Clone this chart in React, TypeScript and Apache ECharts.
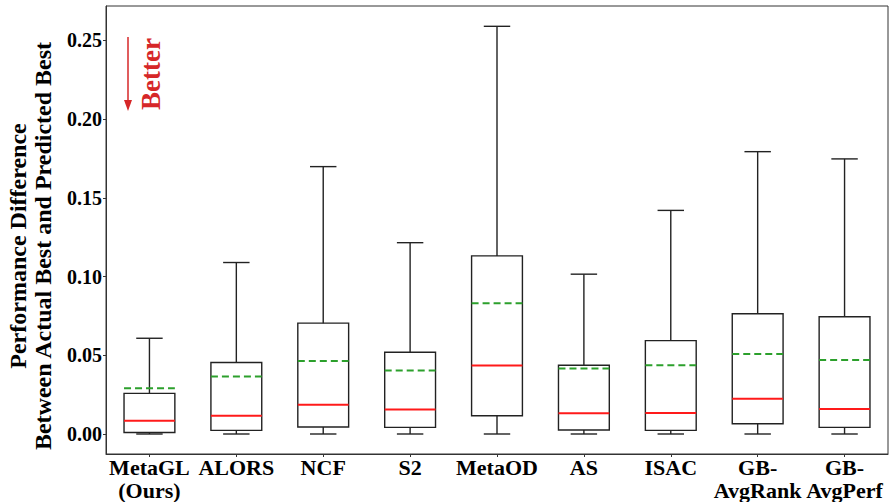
import React, { useEffect, useRef } from "react";
import * as echarts from "echarts";

const categories = ["MetaGL\n(Ours)", "ALORS", "NCF", "S2", "MetaOD", "AS", "ISAC", "GB-\nAvgRank", "GB-\nAvgPerf"];
const whiskerLow = [0.0, 0.0, 0.0, 0.0, 0.0, 0.0, 0.0, 0.0, 0.0];
const q1 = [0.001, 0.0023, 0.0044, 0.0042, 0.0116, 0.0025, 0.0023, 0.0065, 0.0042];
const median = [0.0084, 0.0116, 0.0185, 0.0156, 0.0435, 0.0131, 0.0133, 0.0224, 0.0158];
const q3 = [0.0258, 0.0454, 0.0704, 0.0519, 0.1131, 0.0437, 0.0593, 0.0764, 0.0745];
const whiskerHigh = [0.0608, 0.1089, 0.1698, 0.1215, 0.2589, 0.1015, 0.142, 0.1793, 0.1747];
const mean = [0.0291, 0.0365, 0.0464, 0.0403, 0.0831, 0.0416, 0.0437, 0.0508, 0.047];
const yTicks = [0, 0.05, 0.1, 0.15, 0.2, 0.25];

const FONT = '"Liberation Serif", "Times New Roman", serif';

export default function App() {
  const ref = useRef<HTMLDivElement>(null);
  useEffect(() => {
    if (!ref.current) return;
    const chart = echarts.init(ref.current, undefined, { renderer: "svg" });
    const data = categories.map((_, i) => [i, whiskerLow[i], q1[i], median[i], q3[i], whiskerHigh[i], mean[i]]);
    const lineColor = "#222";
    chart.setOption({
      animation: false,
      backgroundColor: "#fff",
      grid: { left: 106, right: 1, top: 6, bottom: 46, show: true, borderColor: "#333", borderWidth: 1 },
      xAxis: {
        type: "category",
        data: categories,
        boundaryGap: true,
        axisLine: { onZero: false, lineStyle: { color: "#333", width: 1 } },
        axisTick: { show: true, alignWithLabel: true, length: 3, lineStyle: { color: "#333" } },
        axisLabel: {
          interval: 0,
          margin: 2,
          color: "#000",
          fontFamily: FONT,
          fontWeight: "bold",
          fontSize: 22,
          lineHeight: 23,
        },
        splitLine: { show: false },
      },
      yAxis: {
        type: "value",
        min: -0.0127,
        max: 0.2718,
        axisLine: { show: true, lineStyle: { color: "#333", width: 1 } },
        axisTick: { show: true, length: 3, customValues: yTicks, lineStyle: { color: "#333" } },
        axisLabel: {
          customValues: yTicks,
          margin: 4,
          color: "#000",
          fontFamily: FONT,
          fontWeight: "bold",
          fontSize: 20,
          formatter: (v: number) => v.toFixed(2),
        },
        splitLine: { show: false },
      },
      graphic: [
        {
          type: "text",
          x: 30,
          y: 246,
          rotation: Math.PI / 2,
          style: {
            text: "Performance Difference\nBetween Actual Best and Predicted Best",
            fontFamily: FONT,
            fontWeight: "bold",
            fontSize: 24,
            lineHeight: 25,
            fill: "#000",
            align: "center",
            verticalAlign: "middle",
          },
        },
        {
          type: "line",
          shape: { x1: 128, y1: 37, x2: 128, y2: 104 },
          style: { stroke: "#d62728", lineWidth: 1.5 },
        },
        {
          type: "polygon",
          shape: { points: [[124, 100], [132, 100], [128, 111]] },
          style: { fill: "#d62728" },
        },
        {
          type: "text",
          x: 151,
          y: 74,
          rotation: Math.PI / 2,
          style: {
            text: "Better",
            fontFamily: FONT,
            fontWeight: "bold",
            fontSize: 27,
            fill: "#d62728",
            align: "center",
            verticalAlign: "middle",
          },
        },
      ],
      series: [
        {
          type: "custom",
          data,
          encode: { x: 0, y: [1, 2, 3, 4, 5, 6] },
          renderItem: (params: any, api: any) => {
            const i = api.value(0);
            const band = api.size([1, 0])[0];
            const bw = band * 0.585;
            const cw = bw * 0.52;
            const pLow = api.coord([i, api.value(1)]);
            const pQ1 = api.coord([i, api.value(2)]);
            const pMed = api.coord([i, api.value(3)]);
            const pQ3 = api.coord([i, api.value(4)]);
            const pHigh = api.coord([i, api.value(5)]);
            const pMean = api.coord([i, api.value(6)]);
            const cx = pQ1[0];
            const bs = { stroke: lineColor, lineWidth: 1.4, fill: "none" };
            return {
              type: "group",
              children: [
                { type: "line", shape: { x1: cx, y1: pHigh[1], x2: cx, y2: pQ3[1] }, style: bs },
                { type: "line", shape: { x1: cx, y1: pLow[1], x2: cx, y2: pQ1[1] }, style: bs },
                { type: "line", shape: { x1: cx - cw / 2, y1: pHigh[1], x2: cx + cw / 2, y2: pHigh[1] }, style: bs },
                { type: "line", shape: { x1: cx - cw / 2, y1: pLow[1], x2: cx + cw / 2, y2: pLow[1] }, style: bs },
                {
                  type: "rect",
                  shape: { x: cx - bw / 2, y: pQ3[1], width: bw, height: pQ1[1] - pQ3[1] },
                  style: { stroke: lineColor, lineWidth: 1.4, fill: "none" },
                },
                {
                  type: "line",
                  shape: { x1: cx - bw / 2, y1: pMed[1], x2: cx + bw / 2, y2: pMed[1] },
                  style: { stroke: "#ff1a1a", lineWidth: 2 },
                },
                {
                  type: "line",
                  shape: { x1: cx - bw / 2, y1: pMean[1], x2: cx + bw / 2, y2: pMean[1] },
                  style: { stroke: "#2ca02c", lineWidth: 2, lineDash: [7, 4] },
                },
              ],
            };
          },
        },
      ],
    });
    return () => chart.dispose();
  }, []);
  return <div ref={ref} style={{ width: 889, height: 502, position: "absolute", left: 0, top: 0 }} />;
}
